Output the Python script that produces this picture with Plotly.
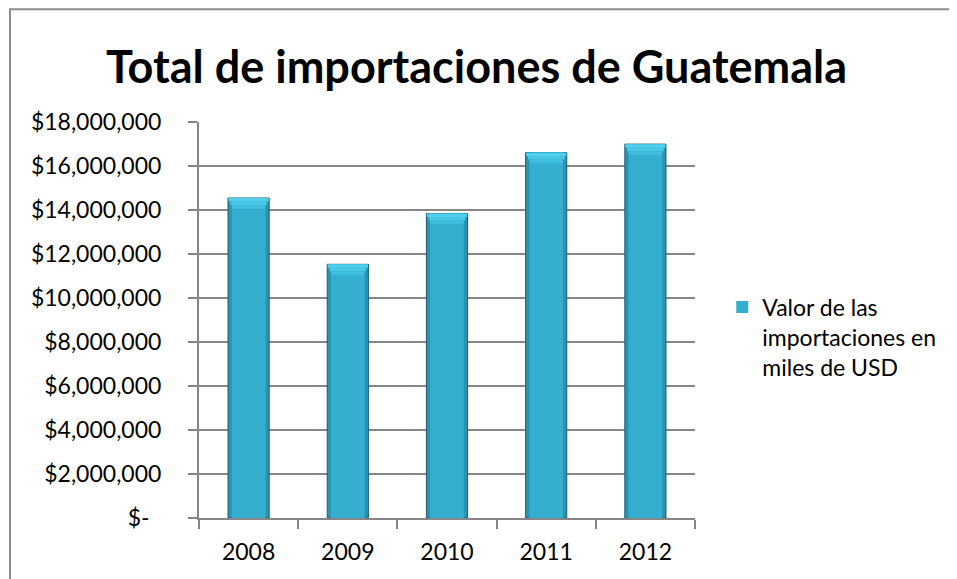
import plotly.graph_objects as go

years = ["2008", "2009", "2010", "2011", "2012"]
importaciones = [14546000, 11531000, 13838000, 16613000, 16994000]

y_ticks = [0, 2000000, 4000000, 6000000, 8000000, 10000000,
           12000000, 14000000, 16000000, 18000000]
y_ticktext = ["$-\u00a0\u00a0", "$2,000,000", "$4,000,000", "$6,000,000", "$8,000,000",
              "$10,000,000", "$12,000,000", "$14,000,000", "$16,000,000", "$18,000,000"]

serie = "Valor de las<br>importaciones en<br>miles de USD"
font = "Lato, Carlito, Calibri, sans-serif"

fig = go.Figure()

# fake cylinder shading: dark rim, lighter core, then a stepped bevel on top
fig.add_trace(go.Bar(x=years, y=importaciones, width=0.415, showlegend=False,
                     marker=dict(color="#2A93B2", line=dict(color="#1B5D71", width=1)),
                     hoverinfo="skip"))
fig.add_trace(go.Bar(x=years, y=importaciones, width=0.34, name=serie,
                     marker=dict(color="#35AED0", line=dict(width=0))))

band = 160000
bevel = [(0.405, "#52CFEC"), (0.37, "#48C6E6"), (0.335, "#3FBDE0")]
for i, (w, c) in enumerate(bevel):
    fig.add_trace(go.Bar(x=years, y=[band] * len(years),
                         base=[v - band * (i + 1) for v in importaciones], width=w,
                         showlegend=False, hoverinfo="skip",
                         marker=dict(color=c, line=dict(width=0))))

fig.update_layout(
    barmode="overlay",
    width=957,
    height=579,
    margin=dict(l=191, r=270, t=114, b=69),
    paper_bgcolor="white",
    plot_bgcolor="white",
    font=dict(family=font, size=23, color="black"),
    title=dict(text="<b>Total de importaciones de Guatemala</b>",
               x=0.4896, xref="container", xanchor="center",
               y=1 - 59 / 579, yref="container", yanchor="middle",
               font=dict(family=font, size=45, color="black")),
    legend=dict(x=1.055, y=0.587, xanchor="left", yanchor="top", valign="top",
                font=dict(family=font, size=23), bgcolor="rgba(0,0,0,0)",
                itemwidth=30),
    shapes=[dict(type="rect", xref="paper", yref="paper",
                 x0=-0.381, x1=1.7, y0=-0.6, y1=1.285,
                 line=dict(color="#8C8C8C", width=2), layer="below")],
)

fig.update_xaxes(
    showline=True, linecolor="#868686", linewidth=2,
    ticks="outside", tickson="boundaries", ticklen=9, tickcolor="#868686", tickwidth=2,
    ticklabelstandoff=12,
    showgrid=False,
)
fig.update_yaxes(
    range=[0, 18000000],
    tickvals=y_ticks, ticktext=y_ticktext,
    showline=True, linecolor="#868686", linewidth=2,
    ticks="outside", ticklen=9, tickcolor="#868686", tickwidth=2,
    ticklabelstandoff=22,
    showgrid=True, gridcolor="#868686", gridwidth=2,
    zeroline=False,
)

fig.write_html("out.html")
